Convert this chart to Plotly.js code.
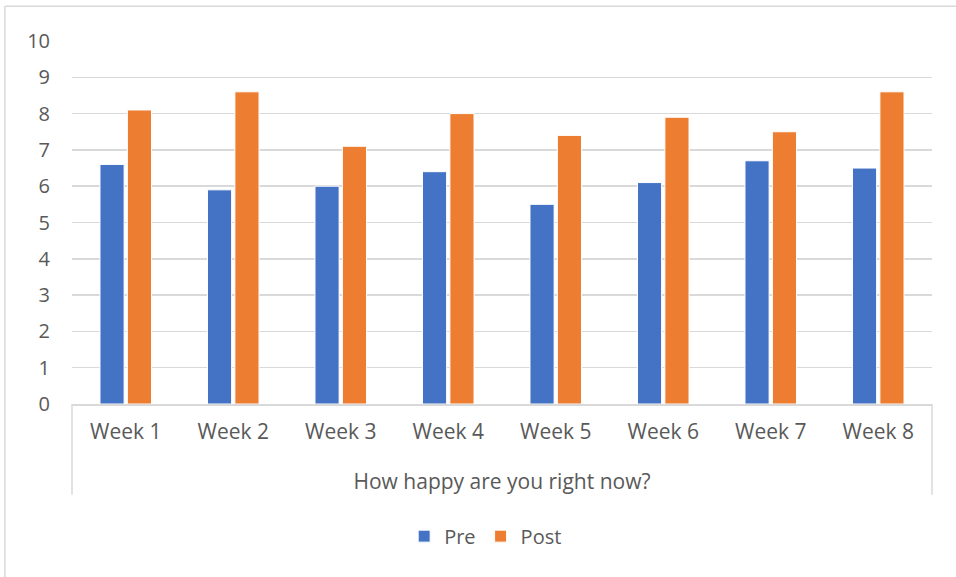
<!DOCTYPE html>
<html>
<head>
<meta charset="utf-8">
<script src="https://cdn.plot.ly/plotly-3.0.1.min.js"></script>
<style>html,body{margin:0;padding:0;background:#fff;}#chart{width:956px;height:577px;}</style>
</head>
<body>
<div id="chart"></div>
<script>
var categories = ["Week 1","Week 2","Week 3","Week 4","Week 5","Week 6","Week 7","Week 8"];
var preValues  = [6.6, 5.9, 6.0, 6.4, 5.5, 6.1, 6.7, 6.5];
var postValues = [8.1, 8.6, 7.1, 8.0, 7.4, 7.9, 7.5, 8.6];
var seriesNames = ["Pre", "Post"];
var axisTitle = "How happy are you right now?";
var yTicks = [0,1,2,3,4,5,6,7,8,9,10];

var fontFam = "Open Sans, Liberation Sans, Arial, sans-serif";
var txt = "#595959";

var traces = [
  {type:"bar", name:seriesNames[0], x:categories, y:preValues,
   marker:{color:"#4472C4", line:{color:"#ffffff", width:1}}},
  {type:"bar", name:seriesNames[1], x:categories, y:postValues,
   marker:{color:"#ED7D31", line:{color:"#ffffff", width:1}}}
];

var layout = {
  width:956, height:577,
  margin:{l:72, r:24, t:41, b:173},
  paper_bgcolor:"#ffffff", plot_bgcolor:"#ffffff",
  barmode:"group", bargap:0.49, bargroupgap:0.12,
  showlegend:true,
  legend:{orientation:"h", x:0.481, xanchor:"center", y:-0.364, yanchor:"middle",
          font:{family:fontFam, size:20, color:txt}, itemwidth:30, traceorder:"normal"},
  font:{family:fontFam, color:txt},
  xaxis:{type:"category", showgrid:false, showline:true, linecolor:"#d9d9d9", linewidth:2,
         ticks:"", tickfont:{family:fontFam, size:21, color:txt}, ticklabelstandoff:8,
         title:{text:axisTitle, font:{family:fontFam, size:21, color:txt}, standoff:30},
         automargin:false, fixedrange:true},
  yaxis:{range:[0,10], tickvals:yTicks, ticktext:yTicks.map(String), showgrid:true,
         gridcolor:"#d9d9d9", gridwidth:1.5, zeroline:false, showline:false, ticks:"",
         tickfont:{family:fontFam, size:20, color:txt}, ticklabelstandoff:21,
         automargin:false, fixedrange:true},
  shapes:[
    {type:"line", xref:"paper", yref:"paper", x0:0, x1:0, y0:0, y1:-0.25, line:{color:"#d9d9d9", width:1.5}},
    {type:"line", xref:"paper", yref:"paper", x0:1, x1:1, y0:0, y1:-0.25, line:{color:"#d9d9d9", width:1.5}},
    {type:"line", xref:"paper", yref:"paper", x0:-0.078, x1:1.1, y0:1.096, y1:1.096, line:{color:"#d9d9d9", width:1.5}},
    {type:"line", xref:"paper", yref:"paper", x0:-0.078, x1:-0.078, y0:1.096, y1:-0.5, line:{color:"#d9d9d9", width:1.5}}
  ]
};

Plotly.newPlot("chart", traces, layout, {displayModeBar:false, staticPlot:true});
</script>
</body>
</html>
